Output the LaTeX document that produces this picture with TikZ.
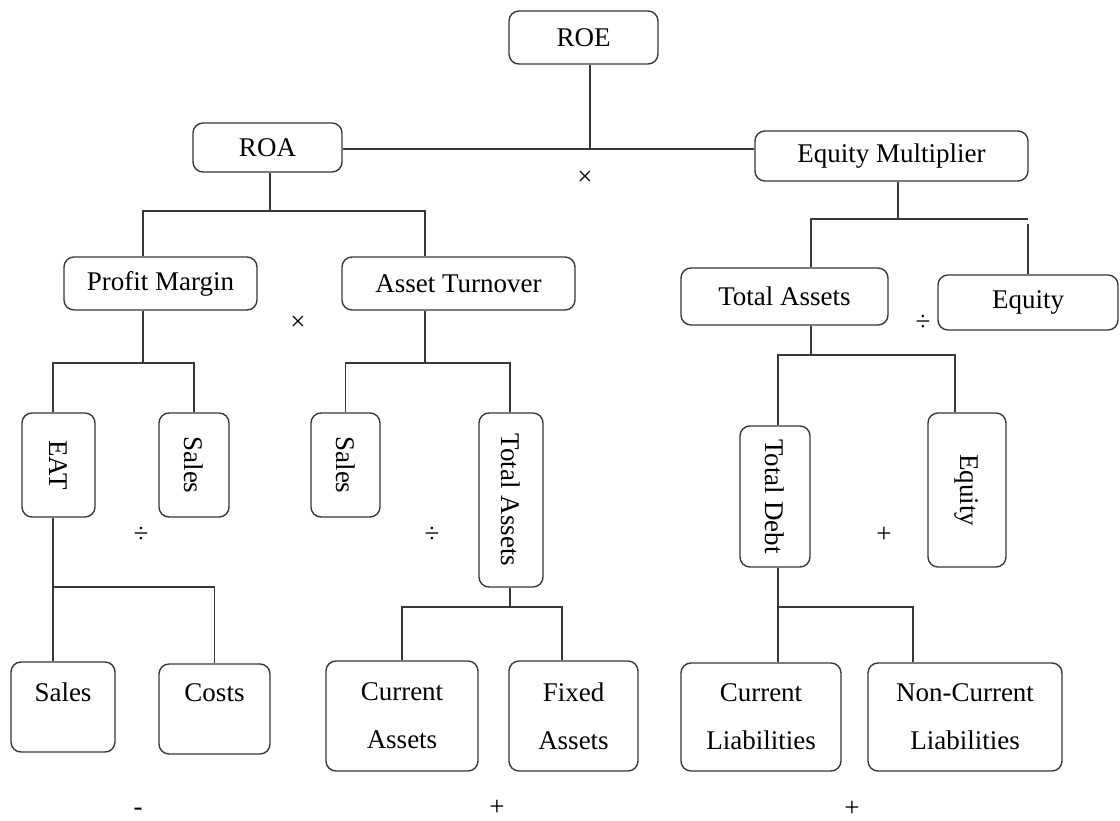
\documentclass[tikz,border=0pt]{standalone}
\usepackage{fontspec}
\setmainfont{Liberation Serif}
\usetikzlibrary{calc}
\definecolor{ln}{HTML}{383838}
\begin{document}
\begin{tikzpicture}[x=1pt,y=-1pt,
  box/.style={draw=ln, line width=1.4pt, rounded corners=10pt, inner sep=0pt, align=center, font=\fontsize{27}{48}\selectfont},
  sz/.style 2 args={minimum width=#1pt, minimum height=#2pt},
  conn/.style={draw=ln, line width=1.4pt},
  op/.style={font=\fontsize{27}{32}\selectfont, inner sep=0pt}]
\useasboundingbox (0,0) rectangle (1120,821);
% level 0-1
\node[box,sz={149}{53}] (roe) at (583.5,37.5) {ROE};
\node[box,sz={149}{49}] (roa) at (267.5,147.5) {ROA};
\node[box,sz={273}{50}] (em) at (891.5,156) {Equity Multiplier};
% level 2
\node[box,sz={193}{53}] (pm) at (160.5,283.5) {Profit Margin};
\node[box,sz={233}{53}] (at) at (458.5,283.5) {Asset Turnover};
\node[box,sz={207}{57}] (ta1) at (784.5,296.5) {Total Assets};
\node[box,sz={180}{55}] (eq1) at (1028,302.5) {Equity};
% level 3 (vertical text)
\node[box,sz={73}{104}] (eat) at (58.5,465) {\rotatebox{-90}{EAT}};
\node[box,sz={70}{104}] (sales1) at (194,465) {\rotatebox{-90}{Sales}};
\node[box,sz={69}{104}] (sales2) at (345.5,465) {\rotatebox{-90}{Sales}};
\node[box,sz={64}{174}] (ta2) at (511,500) {\rotatebox{-90}{Total Assets}};
\node[box,sz={70}{141}] (td) at (775,496.5) {\rotatebox{-90}{Total Debt}};
\node[box,sz={78}{154}] (eq2) at (967,490) {\rotatebox{-90}{Equity}};
% level 4
\node[box,sz={104}{90}] (sales3) at (63,707) {\raisebox{6pt}[0pt][0pt]{Sales}};
\node[box,sz={111}{90}] (costs) at (214.5,709) {\raisebox{8pt}[0pt][0pt]{Costs}};
\node[box,sz={152}{110}] (ca) at (402,716) {Current\\Assets};
\node[box,sz={129}{110}] (fa) at (573.5,716) {Fixed\\Assets};
\node[box,sz={160}{108}] (cl) at (761,717) {Current\\Liabilities};
\node[box,sz={194}{108}] (ncl) at (965,717) {Non-Current\\Liabilities};
% junctions
\coordinate (jroe) at (590,149);
\coordinate (jroa) at (270,211);
\coordinate (jpm) at (143,363);
\coordinate (jat) at (425,363);
\coordinate (jem) at (898,219);
\coordinate (jta1) at (811,355);
\coordinate (jeat) at (53,587);
\coordinate (jta2) at (510,607);
\coordinate (jtd) at (778,607);
% connectors
\draw[conn] (roe.south -| jroe) -- (jroe);
\draw[conn] (roa.east |- jroe) -- (em.west |- jroe);
\draw[conn] (roa.south -| jroa) -- (jroa);
\draw[conn] (pm.north -| jpm) |- (jroa) -| (at.north -| jat);
\draw[conn] (pm.south -| jpm) -- (jpm);
\draw[conn] (eat.north -| jeat) |- (jpm) -| (sales1.north);
\draw[conn] (at.south -| jat) -- (jat);
\draw[conn] (sales2.north) |- (jat) -| (ta2.north -| jta2);
\draw[conn] (em.south -| jem) -- (jem);
\draw[conn] (ta1.north -| jta1) |- (jem) -- (jem -| eq1.north);
\draw[conn] (eq1.north) -- ++(0,-50);
\draw[conn] (ta1.south -| jta1) -- (jta1);
\draw[conn] (td.north -| jtd) |- (jta1) -| ($(eq2.north)+(-12,0)$);
\draw[conn] (eat.south -| jeat) -- (sales3.north -| jeat);
\draw[conn] (jeat) -| (costs.north);
\draw[conn] (ta2.south -| jta2) -- (jta2);
\draw[conn] (ca.north) |- (jta2) -| ($(fa.north)+(-11.5,0)$);
\draw[conn] (td.south -| jtd) -- (cl.north -| jtd);
\draw[conn] (jtd) -| ($(ncl.north)+(-52,0)$);
% operators
\node[op] (x1) at (585,178) {×};
\node[op] (x2) at (298,323) {×};
\node[op] (d1) at (141,535) {÷};
\node[op] (d2) at (432,535) {÷};
\node[op] (d3) at (923,323) {÷};
\node[op] (p1) at (884,535) {+};
\node[op] (p2) at (497,808) {+};
\node[op] (p3) at (852,809) {+};
\node[op] (m1) at (138,812) {-};
\end{tikzpicture}
\end{document}
